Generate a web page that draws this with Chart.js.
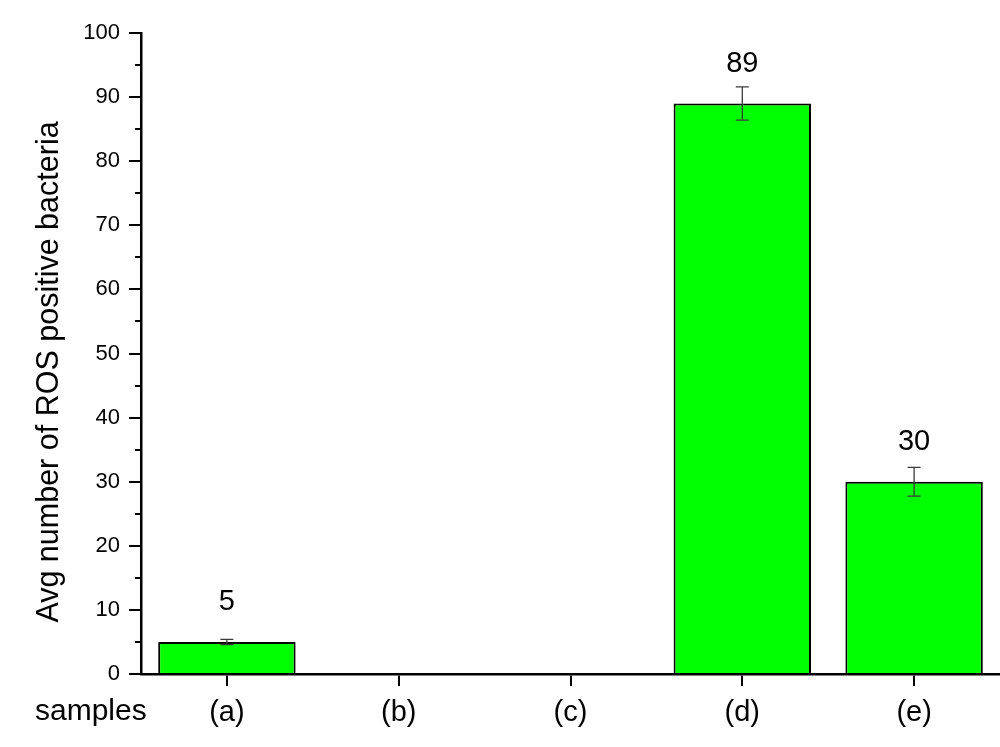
<!DOCTYPE html>
<html>
<head>
<meta charset="utf-8">
<script src="https://cdn.jsdelivr.net/npm/chart.js@4/dist/chart.umd.min.js"></script>
<style>
html,body{margin:0;padding:0;background:#fff;}
#wrap{width:1000px;height:747px;position:relative;}
</style>
</head>
<body>
<div id="wrap"><canvas id="c" width="1000" height="747"></canvas></div>
<script>
const categories = ['(a)', '(b)', '(c)', '(d)', '(e)'];
const values = [5, null, null, 89, 30];
const errors = [0.4, null, null, 2.6, 2.25];
const valueLabels = ['5', '', '', '89', '30'];
const yTicks = [0, 10, 20, 30, 40, 50, 60, 70, 80, 90, 100];
const yMinorTicks = [5, 15, 25, 35, 45, 55, 65, 75, 85, 95];
const xAxisName = 'samples';
const yAxisName = 'Avg number of ROS positive bacteria';

const FONT = "'Liberation Sans', Arial, sans-serif";

const extras = {
  id: 'extras',
  afterDatasetsDraw(chart) {
    const ctx = chart.ctx;
    const xs = chart.scales.x, ys = chart.scales.y;
    ctx.save();
    // error bars
    ctx.strokeStyle = '#3a3a3a';
    ctx.lineWidth = 1.3;
    values.forEach((v, i) => {
      if (v == null || errors[i] == null) return;
      const x = xs.getPixelForValue(i);
      const yt = ys.getPixelForValue(v + errors[i]);
      const yb = ys.getPixelForValue(v - errors[i]);
      ctx.beginPath();
      ctx.moveTo(x, yt); ctx.lineTo(x, yb);
      ctx.moveTo(x - 6.5, yt); ctx.lineTo(x + 6.5, yt);
      ctx.moveTo(x - 6.5, yb); ctx.lineTo(x + 6.5, yb);
      ctx.stroke();
    });
    // value labels
    ctx.fillStyle = '#000';
    ctx.font = '29px ' + FONT;
    ctx.textAlign = 'center';
    ctx.textBaseline = 'middle';
    values.forEach((v, i) => {
      if (v == null || !valueLabels[i]) return;
      ctx.fillText(valueLabels[i], xs.getPixelForValue(i), ys.getPixelForValue(v) - 40);
    });
    // minor y ticks
    ctx.strokeStyle = '#000';
    ctx.lineWidth = 2;
    yMinorTicks.forEach(t => {
      const y = Math.round(ys.getPixelForValue(t));
      ctx.beginPath();
      ctx.moveTo(xs.left - 6, y); ctx.lineTo(xs.left, y);
      ctx.stroke();
    });
    // x-axis name
    ctx.font = '30px ' + FONT;
    ctx.textAlign = 'left';
    ctx.textBaseline = 'middle';
    ctx.fillText(xAxisName, 35, 712);
    // y-axis name
    ctx.translate(50, 372);
    ctx.rotate(-Math.PI / 2);
    ctx.textAlign = 'center';
    ctx.font = '30.5px ' + FONT;
    ctx.fillText(yAxisName, 0, 0);
    ctx.restore();
  }
};

new Chart(document.getElementById('c'), {
  type: 'bar',
  data: {
    labels: categories,
    datasets: [{
      data: values,
      backgroundColor: '#00ff00',
      borderColor: '#000',
      borderWidth: 2,
      borderSkipped: 'start',
      categoryPercentage: 0.8,
      barPercentage: 1.0
    }]
  },
  options: {
    responsive: false,
    animation: false,
    devicePixelRatio: 1,
    layout: { padding: { top: 33, right: 0, left: 0, bottom: 0 } },
    plugins: { legend: { display: false }, tooltip: { enabled: false } },
    scales: {
      x: {
        grid: { display: true, drawOnChartArea: false, drawTicks: true, tickLength: 12, color: '#000', lineWidth: 2, offset: false },
        border: { display: true, color: '#000', width: 2.5 },
        ticks: { color: '#000', font: { family: FONT, size: 29 }, padding: 10, maxRotation: 0 },
        afterFit(scale) { scale.height = 73; }
      },
      y: {
        min: 0, max: 100,
        afterBuildTicks(scale) { scale.ticks = yTicks.map(v => ({ value: v })); },
        grid: { display: true, drawOnChartArea: false, drawTicks: true, tickLength: 12, color: '#000', lineWidth: 2 },
        border: { display: true, color: '#000', width: 2.5 },
        ticks: { color: '#000', font: { family: FONT, size: 22 }, padding: 9 },
        afterFit(scale) { scale.width = 141; }
      }
    }
  },
  plugins: [extras]
});
</script>
</body>
</html>
